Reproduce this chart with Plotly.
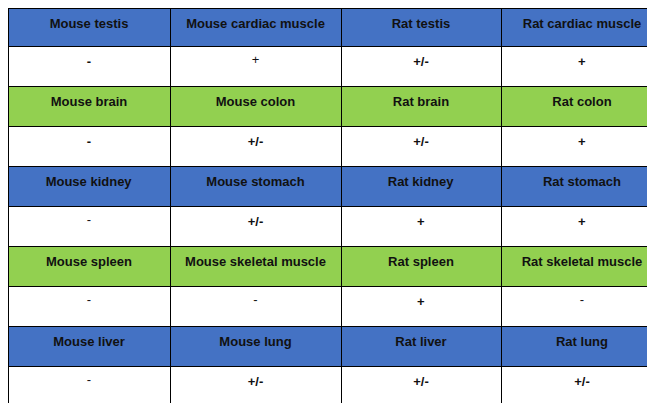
import plotly.graph_objects as go

tissues = [
    ["Mouse testis", "Mouse cardiac muscle", "Rat testis", "Rat cardiac muscle"],
    ["Mouse brain", "Mouse colon", "Rat brain", "Rat colon"],
    ["Mouse kidney", "Mouse stomach", "Rat kidney", "Rat stomach"],
    ["Mouse spleen", "Mouse skeletal muscle", "Rat spleen", "Rat skeletal muscle"],
    ["Mouse liver", "Mouse lung", "Rat liver", "Rat lung"],
]
results = [
    ["-", "+", "+/-", "+"],
    ["-", "+/-", "+/-", "+"],
    ["-", "+/-", "+", "+"],
    ["-", "-", "+", "-"],
    ["-", "+/-", "+/-", "+/-"],
]
bold = [
    [1, 0, 1, 1],
    [1, 1, 1, 1],
    [0, 1, 1, 1],
    [0, 0, 1, 0],
    [0, 1, 1, 1],
]
header_colors = ["#4472C4", "#92D050", "#4472C4", "#92D050", "#4472C4"]

ncol = 4
cols = [[] for _ in range(ncol)]
fills = [[] for _ in range(ncol)]
for r in range(len(tissues)):
    for c in range(ncol):
        cols[c].append(f"<b>{tissues[r][c]}</b>")
        fills[c].append(header_colors[r])
        v = results[r][c]
        cols[c].append(f"<b>{v}</b>" if bold[r][c] else v)
        fills[c].append("white")

font = dict(family="Liberation Sans", size=13, color="#111")
fig = go.Figure(go.Table(
    columnwidth=[162, 171, 160, 162],
    header=dict(values=[col[0] for col in cols], height=38,
                fill_color=[f[0] for f in fills],
                line=dict(color="black", width=1), align="center", font=font),
    cells=dict(values=[col[1:] for col in cols], fill_color=[f[1:] for f in fills],
               height=40, line=dict(color="black", width=1), align="center",
               font=font),
    domain=dict(x=[0, 1], y=[0, 1]),
))
fig.update_layout(width=655, height=403, margin=dict(l=0, r=0, t=0, b=0),
                  paper_bgcolor="white")
fig.write_html("out.html")
